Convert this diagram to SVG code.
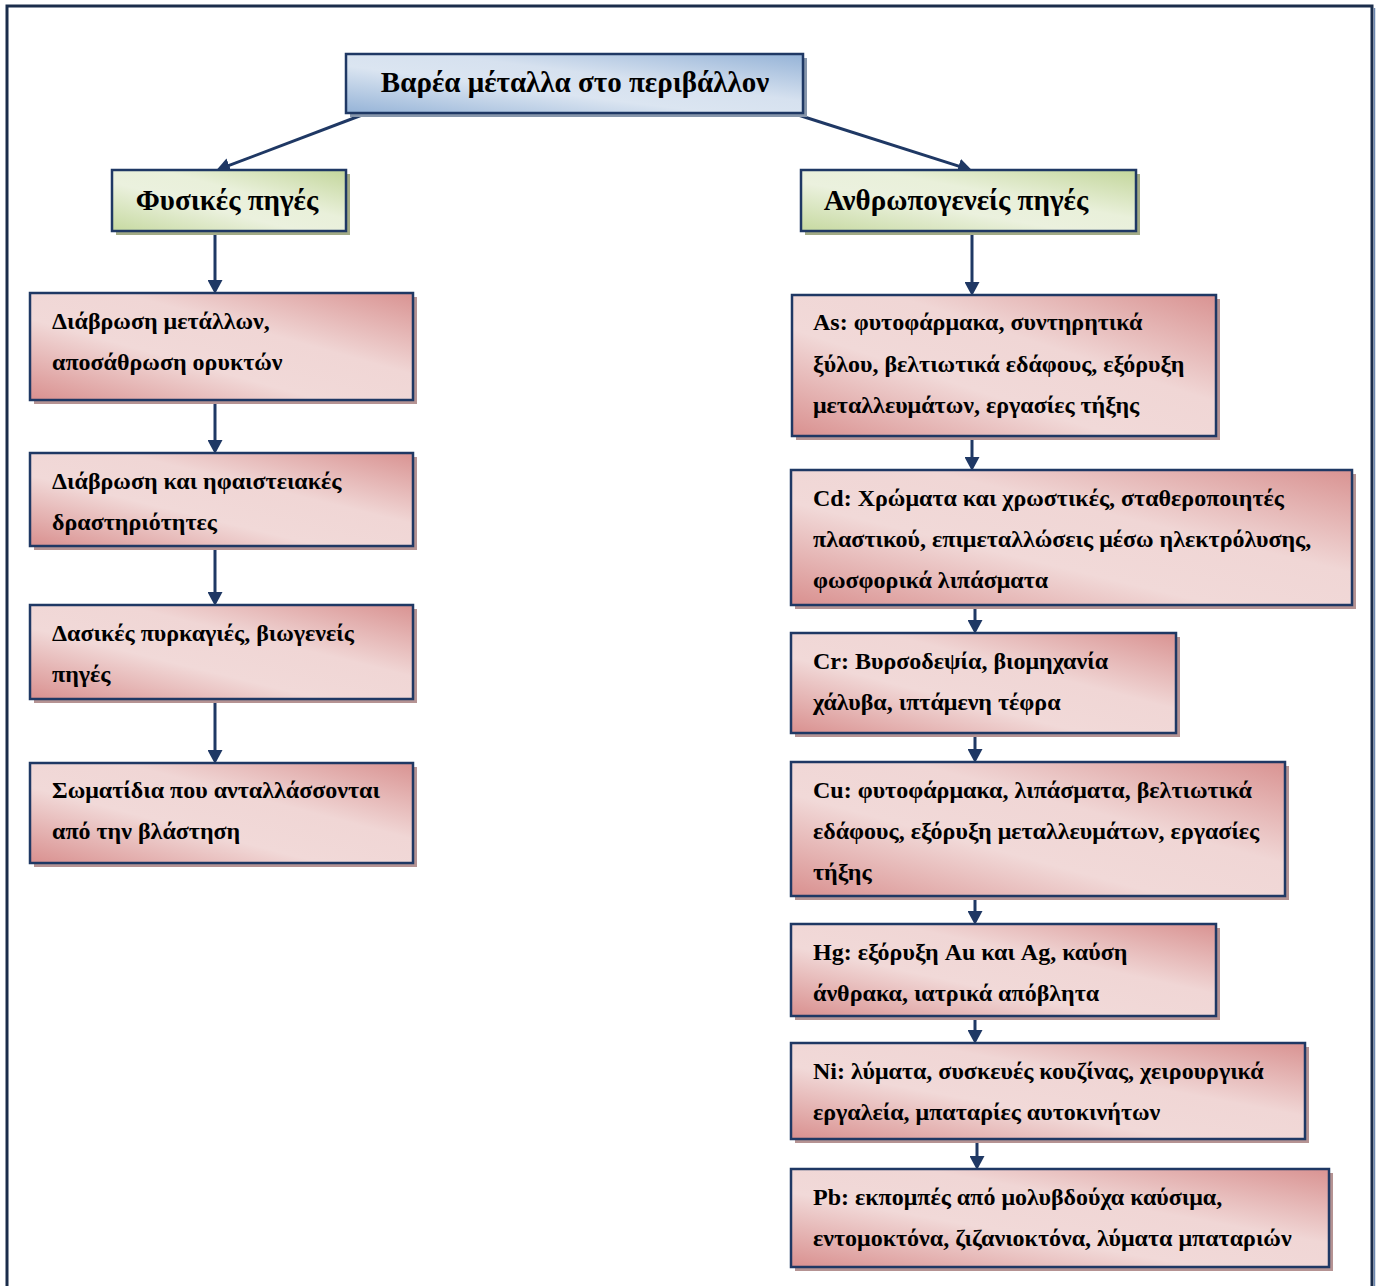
<svg xmlns="http://www.w3.org/2000/svg" width="1378" height="1286" viewBox="0 0 1378 1286">
<defs>
<linearGradient id="gPink" x1="0" y1="1" x2="1" y2="0">
<stop offset="0" stop-color="#d9908f"/>
<stop offset="0.38" stop-color="#f1d9d8"/>
<stop offset="0.62" stop-color="#f0d6d5"/>
<stop offset="1" stop-color="#d99392"/>
</linearGradient>
<linearGradient id="gGreen" x1="0" y1="1" x2="1" y2="0">
<stop offset="0" stop-color="#c6d9a0"/>
<stop offset="0.4" stop-color="#ebf1de"/>
<stop offset="0.6" stop-color="#e9f0da"/>
<stop offset="1" stop-color="#c3d69b"/>
</linearGradient>
<linearGradient id="gBlue" x1="0" y1="1" x2="1" y2="0">
<stop offset="0" stop-color="#95b3d7"/>
<stop offset="0.4" stop-color="#dbe5f1"/>
<stop offset="0.6" stop-color="#d6e1ef"/>
<stop offset="1" stop-color="#95b3d7"/>
</linearGradient>
<marker id="ah" markerWidth="15" markerHeight="15" refX="5" refY="7.5" orient="auto" markerUnits="userSpaceOnUse">
<path d="M0,0 L14,7.5 L0,15 z" fill="#1f3864"/>
</marker>
</defs>
<style>
.box{stroke:#1f3864;stroke-width:2.5}
.pink{fill:url(#gPink)}
.green{fill:url(#gGreen)}
.blue{fill:url(#gBlue)}
.shp{fill:#b59393}
.shg{fill:#a3ab86}
.shb{fill:#8796ab}
.t{font-family:"Liberation Serif","Times New Roman",serif;font-weight:bold;font-size:24px;fill:#000}
.h{font-family:"Liberation Serif","Times New Roman",serif;font-weight:bold;font-size:29px;fill:#000}
.c{stroke:#1f3864;stroke-width:3;fill:none;marker-end:url(#ah)}
</style>
<rect width="1378" height="1286" fill="#fff"/>
<path d="M7,1290 V6 H1372 V1290" fill="none" stroke="#1b2d4b" stroke-width="3"/>
<line x1="1374.5" y1="8" x2="1374.5" y2="1290" stroke="#6d88b0" stroke-width="1.5"/>

<g id="connectors">
<line class="c" x1="362" y1="115" x2="224.5" y2="167.2"/>
<line class="c" x1="795" y1="114" x2="963.4" y2="167.6"/>
<line class="c" x1="215" y1="232" x2="215" y2="285"/>
<line class="c" x1="215" y1="401" x2="215" y2="445"/>
<line class="c" x1="215" y1="547" x2="215" y2="597"/>
<line class="c" x1="215" y1="700" x2="215" y2="755"/>
<line class="c" x1="972" y1="232" x2="972" y2="287"/>
<line class="c" x1="972" y1="436" x2="972" y2="462"/>
<line class="c" x1="975" y1="606" x2="975" y2="625"/>
<line class="c" x1="975" y1="734" x2="975" y2="754"/>
<line class="c" x1="975" y1="897" x2="975" y2="916"/>
<line class="c" x1="975" y1="1017" x2="975" y2="1035"/>
<line class="c" x1="977" y1="1140" x2="977" y2="1161"/>
</g>

<g id="root">
<rect class="shb" x="350" y="58" width="457" height="59"/>
<rect class="box blue" x="346" y="54" width="457" height="59"/>
<text class="h" x="575" y="92" text-anchor="middle">Βαρέα μέταλλα στο περιβάλλον</text>
</g>

<g id="natural">
<rect class="shg" x="116" y="174" width="234" height="61"/>
<rect class="box green" x="112" y="170" width="234" height="61"/>
<text class="h" x="227" y="210" text-anchor="middle">Φυσικές πηγές</text>
</g>

<g id="anthropogenic">
<rect class="shg" x="805" y="174" width="335" height="61"/>
<rect class="box green" x="801" y="170" width="335" height="61"/>
<text class="h" x="956" y="210" text-anchor="middle">Ανθρωπογενείς πηγές</text>
</g>

<g id="n1">
<rect class="shp" x="34" y="297" width="383" height="107"/>
<rect class="box pink" x="30" y="293" width="383" height="107"/>
<text class="t" x="52" y="329">Διάβρωση μετάλλων,</text>
<text class="t" x="52" y="370">αποσάθρωση ορυκτών</text>
</g>

<g id="n2">
<rect class="shp" x="34" y="457" width="383" height="93"/>
<rect class="box pink" x="30" y="453" width="383" height="93"/>
<text class="t" x="52" y="489">Διάβρωση και ηφαιστειακές</text>
<text class="t" x="52" y="530">δραστηριότητες</text>
</g>

<g id="n3">
<rect class="shp" x="34" y="609" width="383" height="94"/>
<rect class="box pink" x="30" y="605" width="383" height="94"/>
<text class="t" x="52" y="641">Δασικές πυρκαγιές, βιωγενείς</text>
<text class="t" x="52" y="682">πηγές</text>
</g>

<g id="n4">
<rect class="shp" x="34" y="767" width="383" height="100"/>
<rect class="box pink" x="30" y="763" width="383" height="100"/>
<text class="t" x="52" y="798">Σωματίδια που ανταλλάσσονται</text>
<text class="t" x="52" y="839">από την βλάστηση</text>
</g>

<g id="as">
<rect class="shp" x="796" y="299" width="424" height="141"/>
<rect class="box pink" x="792" y="295" width="424" height="141"/>
<text class="t" x="813" y="330">As: φυτοφάρμακα, συντηρητικά</text>
<text class="t" x="813" y="372">ξύλου, βελτιωτικά εδάφους, εξόρυξη</text>
<text class="t" x="813" y="413">μεταλλευμάτων, εργασίες τήξης</text>
</g>

<g id="cd">
<rect class="shp" x="795" y="474" width="561" height="135"/>
<rect class="box pink" x="791" y="470" width="561" height="135"/>
<text class="t" x="813" y="506">Cd: Χρώματα και χρωστικές, σταθεροποιητές</text>
<text class="t" x="813" y="547">πλαστικού, επιμεταλλώσεις μέσω ηλεκτρόλυσης,</text>
<text class="t" x="813" y="588">φωσφορικά λιπάσματα</text>
</g>

<g id="cr">
<rect class="shp" x="795" y="637" width="385" height="100"/>
<rect class="box pink" x="791" y="633" width="385" height="100"/>
<text class="t" x="813" y="669">Cr: Βυρσοδεψία, βιομηχανία</text>
<text class="t" x="813" y="710">χάλυβα, ιπτάμενη τέφρα</text>
</g>

<g id="cu">
<rect class="shp" x="795" y="766" width="494" height="134"/>
<rect class="box pink" x="791" y="762" width="494" height="134"/>
<text class="t" x="813" y="798">Cu: φυτοφάρμακα, λιπάσματα, βελτιωτικά</text>
<text class="t" x="813" y="839">εδάφους, εξόρυξη μεταλλευμάτων, εργασίες</text>
<text class="t" x="813" y="880">τήξης</text>
</g>

<g id="hg">
<rect class="shp" x="795" y="928" width="425" height="92"/>
<rect class="box pink" x="791" y="924" width="425" height="92"/>
<text class="t" x="813" y="960">Hg: εξόρυξη Au και Ag, καύση</text>
<text class="t" x="813" y="1001">άνθρακα, ιατρικά απόβλητα</text>
</g>

<g id="ni">
<rect class="shp" x="795" y="1047" width="514" height="96"/>
<rect class="box pink" x="791" y="1043" width="514" height="96"/>
<text class="t" x="813" y="1079">Ni: λύματα, συσκευές κουζίνας, χειρουργικά</text>
<text class="t" x="813" y="1120">εργαλεία, μπαταρίες αυτοκινήτων</text>
</g>

<g id="pb">
<rect class="shp" x="795" y="1173" width="538" height="98"/>
<rect class="box pink" x="791" y="1169" width="538" height="98"/>
<text class="t" x="813" y="1205">Pb: εκπομπές από μολυβδούχα καύσιμα,</text>
<text class="t" x="813" y="1246">εντομοκτόνα, ζιζανιοκτόνα, λύματα μπαταριών</text>
</g>
</svg>
